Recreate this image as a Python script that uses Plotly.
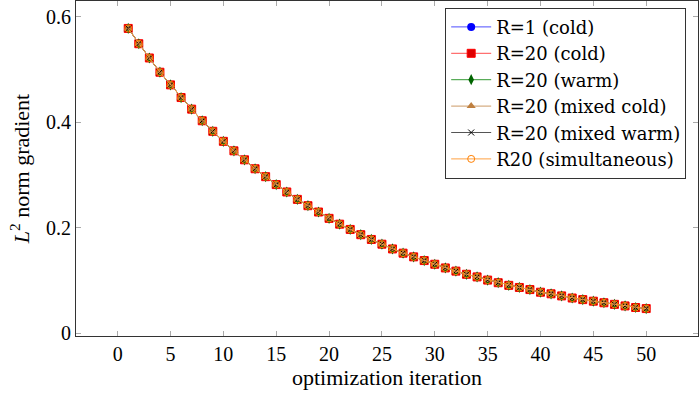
import plotly.graph_objects as go

iterations = list(range(1, 51))
grad_norm = [0.578, 0.549, 0.522, 0.495, 0.471, 0.447, 0.425, 0.403, 0.383, 0.364,
             0.346, 0.329, 0.312, 0.297, 0.282, 0.268, 0.254, 0.242, 0.230, 0.218,
             0.207, 0.197, 0.187, 0.178, 0.169, 0.160, 0.152, 0.145, 0.138, 0.131,
             0.124, 0.118, 0.112, 0.107, 0.101, 0.096, 0.091, 0.087, 0.083, 0.078,
             0.075, 0.071, 0.067, 0.064, 0.061, 0.058, 0.055, 0.052, 0.049, 0.047]

r1_cold = grad_norm
r20_cold = grad_norm
r20_warm = grad_norm
r20_mixed_cold = grad_norm
r20_mixed_warm = grad_norm
r20_simultaneous = grad_norm

series_names = ["R=1 (cold)", "R=20 (cold)", "R=20 (warm)",
                "R=20 (mixed cold)", "R=20 (mixed warm)", "R20 (simultaneous)"]
series_values = [r1_cold, r20_cold, r20_warm, r20_mixed_cold, r20_mixed_warm, r20_simultaneous]

x_ticks = list(range(0, 51, 5))
y_ticks = [0, 0.2, 0.4, 0.6]
y_tick_text = ["0", "0.2", "0.4", "0.6"]

styles = [
    dict(line="#4d4dff", marker=dict(symbol="circle", size=8, color="#0000ff")),
    dict(line="#ff4d4d", marker=dict(symbol="square", size=8, color="#dd0000",
                                       line=dict(color="#ff0000", width=1))),
    dict(line="#339933", marker=dict(symbol="diamond-tall", size=8, color="#006400")),
    dict(line="#cc9966", marker=dict(symbol="triangle-up", size=8, color="#bf8040")),
    dict(line="#555555", marker=dict(symbol="x-thin", size=6, color="#000000",
                                       line=dict(color="#000000", width=1))),
    dict(line="#ffa040", marker=dict(symbol="circle-open", size=7, color="#ff8000",
                                       line=dict(color="#ff8000", width=1))),
]

FONT = "Liberation Serif"
LEG_FONT = "DejaVu Serif"
fig = go.Figure()
for name, vals, st in zip(series_names, series_values, styles):
    fig.add_trace(go.Scatter(
        x=iterations, y=vals, name=name, mode="lines+markers",
        line=dict(color=st["line"], width=1),
        marker=st["marker"],
    ))

axis_common = dict(
    showline=True, linecolor="#333333", linewidth=1, mirror="ticks",
    ticks="inside", ticklen=5, tickcolor="#aaaaaa", tickwidth=1,
    showgrid=False, zeroline=False,
    tickfont=dict(family=FONT, size=20, color="#000000"),
)

fig.update_layout(
    width=700, height=397,
    margin=dict(l=76, r=2, t=1, b=61),
    paper_bgcolor="white", plot_bgcolor="white",
    font=dict(family=FONT, size=20, color="#000000"),
    xaxis=dict(range=[-3.94, 54.9], tickvals=x_ticks,
               title=dict(text="optimization iteration", font=dict(family=FONT, size=22, color="#000000"), standoff=4),
               **axis_common),
    yaxis=dict(range=[-0.005, 0.630], tickvals=y_ticks, ticktext=y_tick_text,
               title=dict(text="<i>L</i><sup>2</sup> norm gradient", font=dict(family=FONT, size=22, color="#000000"), standoff=10),
               **axis_common),
    legend=dict(x=0.981, y=0.98, xanchor="right", yanchor="top",
                bgcolor="white", bordercolor="#333333", borderwidth=1,
                font=dict(family=LEG_FONT, size=18, color="#000000"), tracegroupgap=0,
                itemwidth=40),
    showlegend=True,
)

fig.write_html("out.html")
